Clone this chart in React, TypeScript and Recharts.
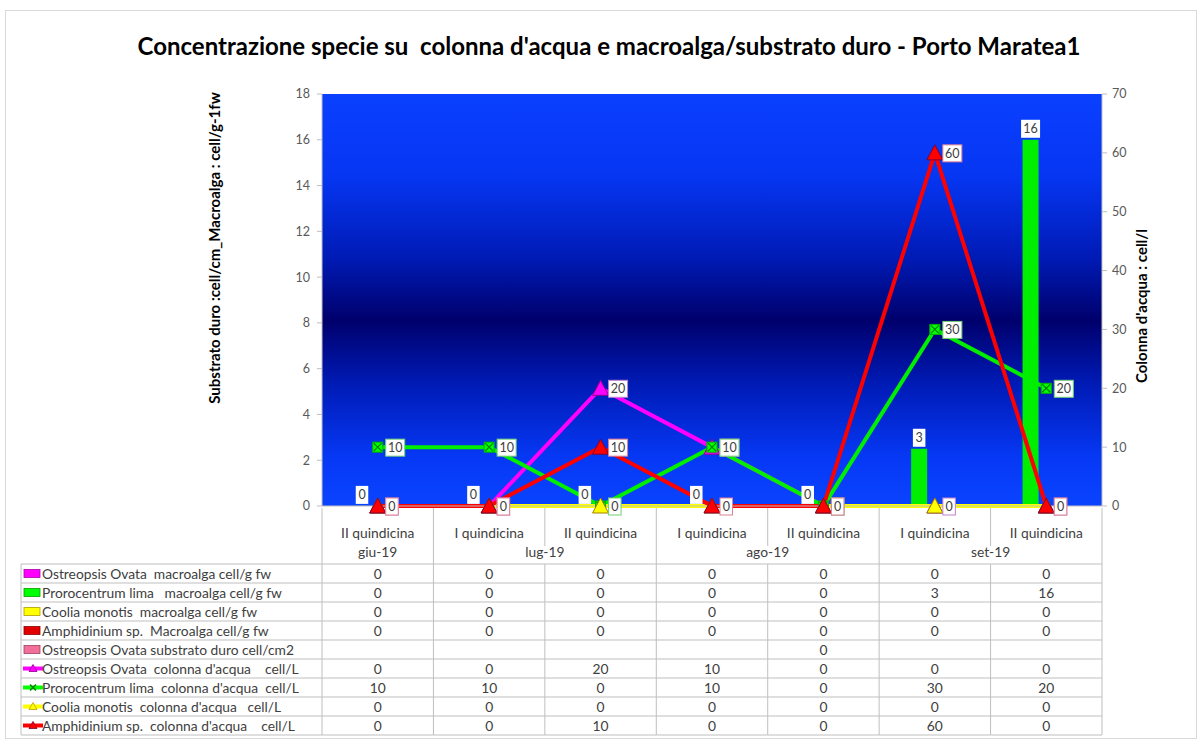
import { ComposedChart, Bar, Line, XAxis, YAxis, CartesianGrid, LabelList } from "recharts";

// categories (two-level x axis)
const categories = ["II quindicina", "I quindicina", "II quindicina", "I quindicina", "II quindicina", "I quindicina", "II quindicina"];
const months = ["giu-19", "lug-19", "lug-19", "ago-19", "ago-19", "set-19", "set-19"];

// macroalga / substrato duro (left axis, bars)
const ostreopsisMacroalga = [0, 0, 0, 0, 0, 0, 0];
const prorocentrumMacroalga = [0, 0, 0, 0, 0, 2.5, 16];
const cooliaMacroalga = [0, 0, 0, 0, 0, 0, 0];
const amphidiniumMacroalga = [0, 0, 0, 0, 0, 0, 0];
const ostreopsisSubstrato = [null, null, null, null, 0, null, null];

// colonna d'acqua (right axis, lines)
const ostreopsisColonna = [0, 0, 20, 10, 0, 0, 0];
const prorocentrumColonna = [10, 10, 0, 10, 0, 30, 20];
const cooliaColonna = [0, 0, 0, 0, 0, 0, 0];
const amphidiniumColonna = [0, 0, 10, 0, 0, 60, 0];

const leftTicks = [0, 2, 4, 6, 8, 10, 12, 14, 16, 18];
const rightTicks = [0, 10, 20, 30, 40, 50, 60, 70];

const W = 1201;
const H = 742;
const PLOT_LEFT = 322;
const PLOT_RIGHT = 1102;
const PLOT_TOP = 94;
const PLOT_BOTTOM = 506;
const AXIS_W = 60;
const ROW_H = 19;
const LEGEND_W = 301;
const FONT = "Lato, 'Open Sans', sans-serif";
const TEXT = "#404040";
const GRID = "#bfbfbf";
const TABLE_FONT = 13.8;

const tableRows = [
  { name: "Ostreopsis Ovata  macroalga cell/g fw", values: ostreopsisMacroalga, color: "#ff00ff", edge: "#b000b0", kind: "bar" },
  { name: "Prorocentrum lima   macroalga cell/g fw", values: prorocentrumMacroalga, color: "#00ff00", edge: "#00a000", kind: "bar" },
  { name: "Coolia monotis  macroalga cell/g fw", values: cooliaMacroalga, color: "#ffff00", edge: "#b0a000", kind: "bar" },
  { name: "Amphidinium sp.  Macroalga cell/g fw", values: amphidiniumMacroalga, color: "#e00000", edge: "#900000", kind: "bar" },
  { name: "Ostreopsis Ovata substrato duro cell/cm2", values: ostreopsisSubstrato, color: "#f0709a", edge: "#a04060", kind: "bar" },
  { name: "Ostreopsis Ovata  colonna d'acqua    cell/L", values: ostreopsisColonna, color: "#ff00ff", edge: "#900090", kind: "tri" },
  { name: "Prorocentrum lima  colonna d'acqua  cell/L", values: prorocentrumColonna, color: "#00ff00", edge: "#009000", kind: "x" },
  { name: "Coolia monotis  colonna d'acqua   cell/L", values: cooliaColonna, color: "#ffff00", edge: "#c0a000", kind: "tri" },
  { name: "Amphidinium sp.  colonna d'acqua    cell/L", values: amphidiniumColonna, color: "#ff0000", edge: "#800030", kind: "tri" },
];

const data = categories.map((c, i) => ({
  key: String(i),
  b0: ostreopsisMacroalga[i],
  b1: prorocentrumMacroalga[i],
  b2: cooliaMacroalga[i],
  b3: amphidiniumMacroalga[i],
  b4: ostreopsisSubstrato[i],
  l0: ostreopsisColonna[i],
  l1: prorocentrumColonna[i],
  l2: cooliaColonna[i],
  l3: amphidiniumColonna[i],
}));

const fmt = (v: number | null) => (v == null ? "" : String(Math.round(v)));

const triangleDot = (fill: string, stroke: string) => (props: any) => {
  const { cx, cy, index } = props;
  if (cx == null || cy == null) return <g key={index} />;
  return (
    <polygon
      key={index}
      points={`${cx},${cy - 8} ${cx - 8},${cy + 7} ${cx + 8},${cy + 7}`}
      fill={fill}
      stroke={stroke}
      strokeWidth={1}
    />
  );
};

const crossDot = (props: any) => {
  const { cx, cy, index } = props;
  if (cx == null || cy == null) return <g key={index} />;
  return (
    <g key={index}>
      <rect x={cx - 5} y={cy - 5} width={10} height={10} fill="#00ff00" stroke="#00b000" />
      <path d={`M${cx - 4},${cy - 4}L${cx + 4},${cy + 4}M${cx + 4},${cy - 4}L${cx - 4},${cy + 4}`} stroke="#008000" strokeWidth={1.2} />
    </g>
  );
};

const lineLabel = (border: string) => (props: any) => {
  const { x, y, value, index } = props;
  if (value == null) return null;
  const t = fmt(value);
  const w = t.length * 6.5 + 6;
  return (
    <g key={index}>
      <rect x={x + 8} y={y - 8} width={w} height={17} fill="#fff" stroke={border} strokeWidth={1} />
      <text x={x + 8 + w / 2} y={y + 0.5} textAnchor="middle" dominantBaseline="central" fontSize={12.5} fill={TEXT} fontFamily={FONT}>
        {t}
      </text>
    </g>
  );
};

const barLabel = (props: any) => {
  const { x, y, width, value, index } = props;
  if (value == null) return null;
  const t = fmt(value);
  const w = t.length * 6.5 + 6;
  const cx = x + width / 2;
  return (
    <g key={index}>
      <rect x={cx - w / 2} y={y - 20} width={w} height={18} fill="#fff" />
      <text x={cx} y={y - 11} textAnchor="middle" dominantBaseline="central" fontSize={12.5} fill={TEXT} fontFamily={FONT}>
        {t}
      </text>
    </g>
  );
};

const Swatch = ({ row, x, y }: any) => {
  if (row.kind === "bar") {
    return <rect x={x} y={y - 4} width={16} height={8} fill={row.color} stroke={row.edge} strokeWidth={0.8} />;
  }
  const cx = x + 9;
  return (
    <g>
      <line x1={x - 1} y1={y} x2={x + 19} y2={y} stroke={row.color} strokeWidth={4} />
      {row.kind === "x" ? (
        <path d={`M${cx - 3},${y - 3}L${cx + 3},${y + 3}M${cx + 3},${y - 3}L${cx - 3},${y + 3}`} stroke="#008000" strokeWidth={1.5} />
      ) : (
        <polygon points={`${cx},${y - 4} ${cx - 4},${y + 3} ${cx + 4},${y + 3}`} fill={row.color} stroke={row.edge} strokeWidth={0.8} />
      )}
    </g>
  );
};

// x axis tick: draws the two label rows and the data table column for each category
const XTick = (props: any) => {
  const { x, y, payload } = props;
  const i = payload.index;
  const n = categories.length;
  const bw = (PLOT_RIGHT - PLOT_LEFT) / n;
  const left = x - bw / 2;
  const right = x + bw / 2;
  const tableTop = y + 56;
  const bottom = tableTop + tableRows.length * ROW_H;
  const groupEnd = i === n - 1 || months[i + 1] !== months[i];
  const groupStart = i === 0 || months[i - 1] !== months[i];
  let span = 1;
  while (i + span < n && months[i + span] === months[i]) span++;
  const txt = { fontSize: TABLE_FONT, fill: TEXT, fontFamily: FONT, textAnchor: "middle" as const, dominantBaseline: "central" as const };

  const hLines = [];
  for (let k = 0; k <= tableRows.length; k++) {
    hLines.push(<line key={"h" + k} x1={left} x2={right} y1={tableTop + k * ROW_H} y2={tableTop + k * ROW_H} stroke={GRID} />);
  }

  let legend = null;
  if (i === 0) {
    const lx = left - LEGEND_W;
    legend = (
      <g>
        <line x1={left} x2={left} y1={y} y2={bottom} stroke={GRID} />
        <line x1={lx} x2={lx} y1={tableTop} y2={bottom} stroke={GRID} />
        {tableRows.map((r, k) => (
          <g key={"lg" + k}>
            <line x1={lx} x2={left} y1={tableTop + k * ROW_H} y2={tableTop + k * ROW_H} stroke={GRID} />
            <Swatch row={r} x={lx + 3} y={tableTop + k * ROW_H + ROW_H / 2} />
            <text
              x={lx + 21}
              y={tableTop + k * ROW_H + ROW_H / 2}
              fontSize={TABLE_FONT}
              fill={TEXT}
              fontFamily={FONT}
              dominantBaseline="central"
              style={{ whiteSpace: "pre" }}
            >
              {r.name}
            </text>
          </g>
        ))}
        <line x1={lx} x2={left} y1={bottom} y2={bottom} stroke={GRID} />
      </g>
    );
  }

  return (
    <g>
      {legend}
      <text x={x} y={y + 24} {...txt}>{categories[i]}</text>
      {groupStart && <text x={left + (bw * span) / 2} y={y + 43} {...txt}>{months[i]}</text>}
      {groupEnd ? (
        <line x1={right} x2={right} y1={y} y2={bottom} stroke={GRID} />
      ) : (
        <g>
          <line x1={right} x2={right} y1={y} y2={y + 38} stroke={GRID} />
          <line x1={right} x2={right} y1={tableTop} y2={bottom} stroke={GRID} />
        </g>
      )}
      {hLines}
      {tableRows.map((r, k) => (
        <text key={"v" + k} x={x} y={tableTop + k * ROW_H + ROW_H / 2} {...txt}>
          {fmt(r.values[i] as number | null)}
        </text>
      ))}
    </g>
  );
};

const axisTick = { fill: "#595959", fontSize: 12.5, fontFamily: FONT };

export default function App() {
  return (
    <div style={{ position: "absolute", left: 0, top: 0, width: W, height: H, background: "#fff", fontFamily: FONT }}>
      <div style={{ position: "absolute", left: 5, top: 10, width: 1190, height: 727, border: "1px solid #d9d9d9" }} />
      <div
        style={{
          position: "absolute",
          left: 0,
          top: 30,
          width: 1218,
          textAlign: "center",
          fontSize: 24,
          fontWeight: 700,
          color: "#000",
          whiteSpace: "pre",
          lineHeight: "32px",
        }}
      >
        Concentrazione specie su  colonna d'acqua e macroalga/substrato duro - Porto Maratea1
      </div>
      <div style={{ position: "absolute", left: 0, top: 0 }}>
        <ComposedChart
          width={W}
          height={H}
          data={data}
          barGap={0}
          margin={{ top: PLOT_TOP, right: W - PLOT_RIGHT - AXIS_W, left: PLOT_LEFT - AXIS_W, bottom: 10 }}
        >
          <defs>
            <linearGradient id="plotBg" x1="0" y1="0" x2="0" y2="1">
              <stop offset="0" stopColor="#0a40ff" />
              <stop offset="0.2" stopColor="#0636f2" />
              <stop offset="0.4" stopColor="#001ab4" />
              <stop offset="0.55" stopColor="#00006c" />
              <stop offset="0.7" stopColor="#001ab4" />
              <stop offset="0.88" stopColor="#0638f4" />
              <stop offset="1" stopColor="#0a44ff" />
            </linearGradient>
          </defs>
          <CartesianGrid horizontal={false} vertical={false} fill="url(#plotBg)" stroke="none" />
          <XAxis
            dataKey="key"
            height={H - PLOT_BOTTOM - 10}
            tickSize={0}
            tickLine={false}
            axisLine={{ stroke: GRID }}
            interval={0}
            tick={<XTick />}
          />
          <YAxis
            yAxisId="left"
            width={AXIS_W}
            domain={[0, 18]}
            ticks={leftTicks}
            tick={axisTick}
            tickSize={5}
            tickMargin={7}
            axisLine={{ stroke: GRID }}
            tickLine={{ stroke: GRID }}
          />
          <YAxis
            yAxisId="right"
            orientation="right"
            width={AXIS_W}
            domain={[0, 70]}
            ticks={rightTicks}
            tick={axisTick}
            tickSize={5}
            tickMargin={5}
            axisLine={{ stroke: GRID }}
            tickLine={{ stroke: GRID }}
          />
          <Bar yAxisId="left" dataKey="b0" fill="#ff00ff" barSize={16} isAnimationActive={false} />
          <Bar yAxisId="left" dataKey="b1" fill="#00ee00" barSize={16} minPointSize={0.1} isAnimationActive={false}>
            <LabelList dataKey="b1" content={barLabel} />
          </Bar>
          <Bar yAxisId="left" dataKey="b2" fill="#ffff00" barSize={16} isAnimationActive={false} />
          <Bar yAxisId="left" dataKey="b3" fill="#e00000" barSize={16} isAnimationActive={false} />
          <Bar yAxisId="left" dataKey="b4" fill="#f0709a" barSize={16} isAnimationActive={false} />
          <Line
            yAxisId="right"
            dataKey="l0"
            stroke="#ff00ff"
            strokeWidth={4}
            dot={triangleDot("#ff00ff", "#900090")}
            isAnimationActive={false}
          >
            <LabelList dataKey="l0" content={lineLabel("#c080d0")} />
          </Line>
          <Line yAxisId="right" dataKey="l1" stroke="#00ee00" strokeWidth={4} dot={crossDot} isAnimationActive={false}>
            <LabelList dataKey="l1" content={lineLabel("#70d070")} />
          </Line>
          <Line
            yAxisId="right"
            dataKey="l2"
            stroke="#ffff00"
            strokeWidth={4}
            dot={triangleDot("#ffff00", "#a08000")}
            isAnimationActive={false}
          />
          <Line
            yAxisId="right"
            dataKey="l3"
            stroke="#ff0000"
            strokeWidth={4}
            dot={triangleDot("#ff0000", "#800030")}
            isAnimationActive={false}
          >
            <LabelList dataKey="l3" content={lineLabel("#e08090")} />
          </Line>
        </ComposedChart>
      </div>
      <svg width={W} height={H} style={{ position: "absolute", left: 0, top: 0, pointerEvents: "none" }}>
        <text
          transform="translate(214,248) rotate(-90)"
          textAnchor="middle"
          dominantBaseline="central"
          fontSize={15}
          fontWeight={700}
          fill="#000"
          fontFamily={FONT}
        >
          Substrato duro :cell/cm_Macroalga : cell/g-1fw
        </text>
        <text
          transform="translate(1141,306) rotate(-90)"
          textAnchor="middle"
          dominantBaseline="central"
          fontSize={15}
          fontWeight={700}
          fill="#000"
          fontFamily={FONT}
        >
          Colonna d'acqua : cell/l
        </text>
      </svg>
    </div>
  );
}
